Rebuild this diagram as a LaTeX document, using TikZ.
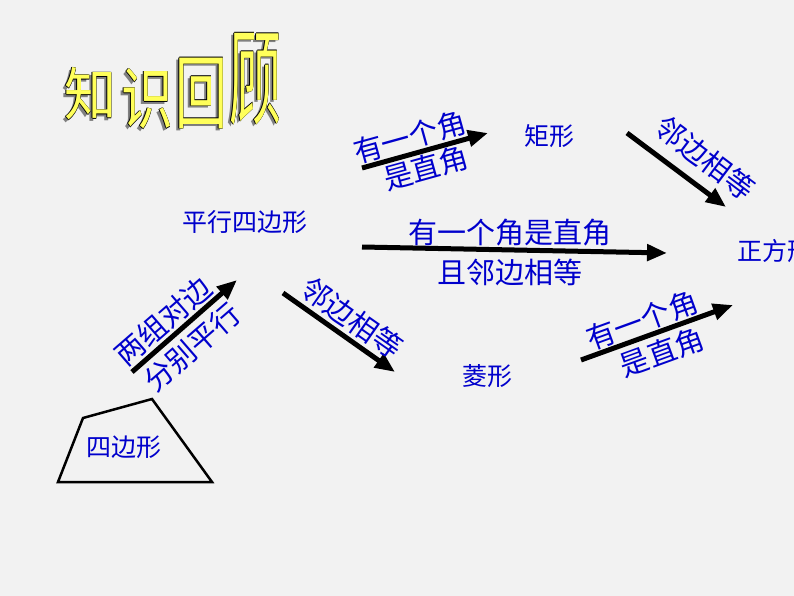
\documentclass[tikz,border=0pt]{standalone}
\usepackage{fontspec}
\newfontfamily\cjk{Noto Sans CJK SC}
\usetikzlibrary{arrows.meta,calc}
\definecolor{bg}{RGB}{242,242,242}
\definecolor{txtblue}{RGB}{0,0,204}
\definecolor{ttlyel}{RGB}{255,255,90}
\newcommand\tichar[5]{%
  \node[ttl,text=black!50,yscale=#4] at (#2-2.5,#3+2.5) {#5};
  \foreach \dx/\dy in {-.6/0,.6/0,0/-.6,0/.6}
    \node[ttl,text=black,yscale=#4] at (#2+\dx,#3+\dy) {#5};
  \node[ttl,text=ttlyel,yscale=#4] (#1) at (#2,#3) {#5};}
\begin{document}
\begin{tikzpicture}[x=1pt,y=-1pt,
  lbl/.style={text=txtblue,font=\cjk\fontsize{25}{25}\selectfont,inner sep=0pt},
  elbl/.style={text=txtblue,font=\cjk\fontsize{29}{29}\selectfont,inner sep=0pt},
  arr/.style={line width=5pt,-{Triangle[length=20pt,width=16pt]}},
  ttl/.style={font=\cjk\fontsize{52}{52}\selectfont,inner sep=0pt}]
\path[use as bounding box, fill=bg] (0,0) rectangle (794,596);
\clip (0,0) rectangle (794,596);
% title
\tichar{t1}{90}{94}{1.1}{知}
\tichar{t2}{147}{99}{1.3}{识}
\tichar{t3}{201}{93}{1.55}{回}
\tichar{t4}{255}{79}{2.0}{顾}
% quadrilateral
\draw[line width=2.5pt,line join=miter] (58,482) -- (212,482) -- (152,399) -- (83,418) -- cycle;
\node[lbl] (sbx) at (124,447) {四边形};
\node[lbl] (pxsbx) at (245,222) {平行四边形};
\node[lbl] (jx) at (549,136) {矩形};
\node[lbl] (lx) at (487,376) {菱形};
\node[lbl,anchor=west] (zfx) at (737,251) {正方形};
% arrow endpoints
\coordinate (a1s) at (132,372); \coordinate (a1e) at (237,280);
\coordinate (a2s) at (362,168); \coordinate (a2e) at (488,133);
\coordinate (a3s) at (627,133); \coordinate (a3e) at (726,207);
\coordinate (a4s) at (362,247); \coordinate (a4e) at (667,253);
\coordinate (a5s) at (283,293); \coordinate (a5e) at (395,372);
\coordinate (a6s) at (581,360); \coordinate (a6e) at (733,305);
\draw[arr] (a1s) -- (a1e);
\draw[arr] (a2s) -- (a2e);
\draw[arr] (a3s) -- (a3e);
\draw[arr] (a4s) -- (a4e);
\draw[arr] (a5s) -- (a5e);
\draw[arr] (a6s) -- (a6e);
% labels
\node[elbl,rotate=41] (l1a) at (163,321) {两组对边};
\node[elbl,rotate=41] (l1b) at (192,347) {分别平行};
\node[elbl,rotate=15.5] (l2a) at (410,137) {有一个角};
\node[elbl,rotate=15.5] (l2b) at (426,168) {是直角};
\node[elbl,rotate=-37] (l3) at (705,158) {邻边相等};
\node[elbl] (l4a) at (510,233) {有一个角是直角};
\node[elbl] (l4b) at (510,272) {且邻边相等};
\node[elbl,rotate=-35] (l5) at (352,318) {邻边相等};
\node[elbl,rotate=20] (l6a) at (642,320) {有一个角};
\node[elbl,rotate=20] (l6b) at (662,352) {是直角};
\end{tikzpicture}
\end{document}
